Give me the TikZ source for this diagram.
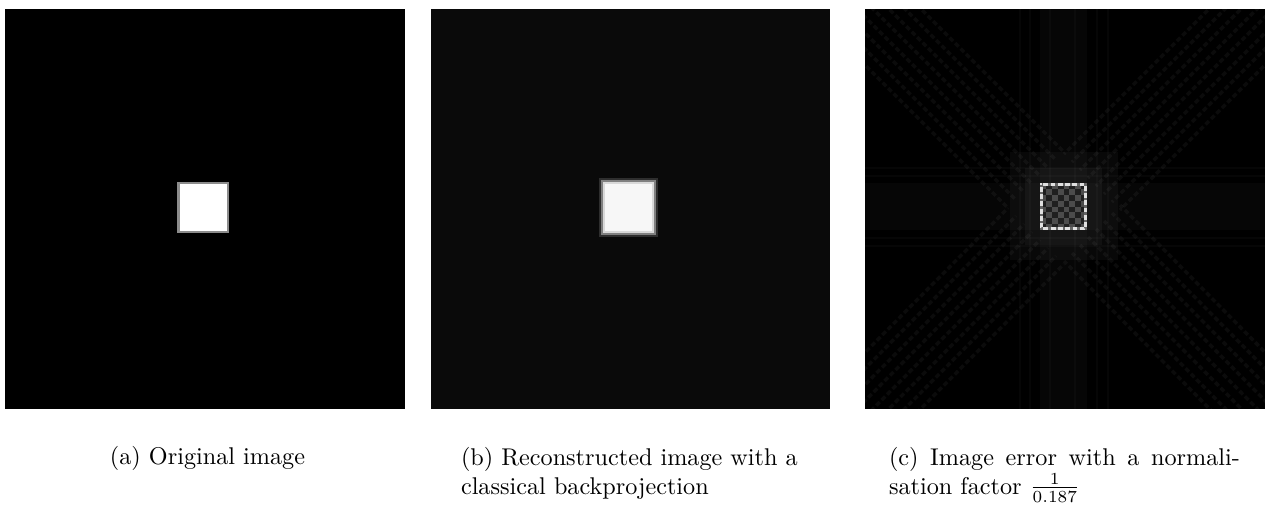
\documentclass[tikz,border=0pt]{standalone}
\begin{document}
\begin{tikzpicture}[x=0.4132pt,y=-0.4132pt,
  captxt/.style={inner sep=0pt,outer sep=0pt,anchor=base west,font=\normalsize},
  streak/.style={white,opacity=0.045,line width=1.4pt,dash pattern=on 2pt off 1.2pt},
  faint/.style={white,opacity=0.025}]
\useasboundingbox (0,0) rectangle (1266,507);
% ---------- (a) original image ----------
\fill[black] (5,9) rectangle (405,409);
\fill[white!55!black] (177,182) rectangle (229,233);
\fill[white] (180,184) rectangle (226.5,231);
% ---------- (b) reconstruction ----------
\fill[black!96!white] (431,9) rectangle (830,409);
\fill[white!18!black] (599,178) rectangle (658,237);
\fill[white!50!black] (601,180) rectangle (656,235);
\fill[white!85!black] (603,182) rectangle (654,233);
\fill[white!97!black] (605,184) rectangle (652,231);
% ---------- (c) error ----------
\fill[black] (865,9) rectangle (1265,409);
\begin{scope}
  \clip (865,9) rectangle (1265,409);
  % horizontal and vertical bands
  \fill[faint] (865,183) rectangle (1265,230);
  \fill[faint] (1040,9) rectangle (1087,409);
  \foreach \v in {1020,1030,1050,1075,1097,1108} {
    \draw[white,opacity=0.025,line width=1.2pt] (\v,9) -- (\v,409);
  }
  \foreach \h in {168,176,238,246} {
    \draw[white,opacity=0.025,line width=1.2pt] (865,\h) -- (1265,\h);
  }
  % diagonal arms
  \foreach \o in {-28,-20,...,28} {
    \draw[streak] (845+\o,-11-\o) -- (1036+\o,180-\o);
    \draw[streak] (1285+\o,-11+\o) -- (1092+\o,182+\o);
    \draw[streak] (845+\o,429+\o) -- (1036+\o,236+\o);
    \draw[streak] (1285+\o,429-\o) -- (1092+\o,233-\o);
  }
  % halo
  \fill[white,opacity=0.03] (1010,152) rectangle (1118,260);
  \fill[white,opacity=0.04] (1025,168) rectangle (1102,245);
\end{scope}
% checkerboard square
\fill[white!12!black] (1040,183) rectangle (1087,230);
\foreach \i in {0,...,7} {
  \foreach \j in {0,...,7} {
    \pgfmathtruncatemacro\k{mod(\i+\j,2)}
    \ifnum\k=0
      \fill[white!30!black] (1040+\i*5.875,183+\j*5.875) rectangle ++(5.875,5.875);
    \fi
  }
}
\draw[white!88!black,line width=1pt] (1041.5,184.5) rectangle (1085.5,228.5);
\draw[white!40!black,line width=1pt,dash pattern=on 1pt off 2pt] (1041.5,184.5) rectangle (1085.5,228.5);
% ---------- captions ----------
\node[captxt,anchor=base] (capa) at (207.5,464) {(a) Original image};
\node[captxt] (capb1) at (461,465) {(b) Reconstructed image with a};
\node[captxt] (capb2) at (461,494) {classical backprojection};
\node[captxt] (capc1) at (889,465) {\hbox to 145pt{(c) Image error with a normali-}};
\node[captxt] (capc2) at (889,494) {sation factor $\frac{1}{0.187}$};
\end{tikzpicture}
\end{document}
